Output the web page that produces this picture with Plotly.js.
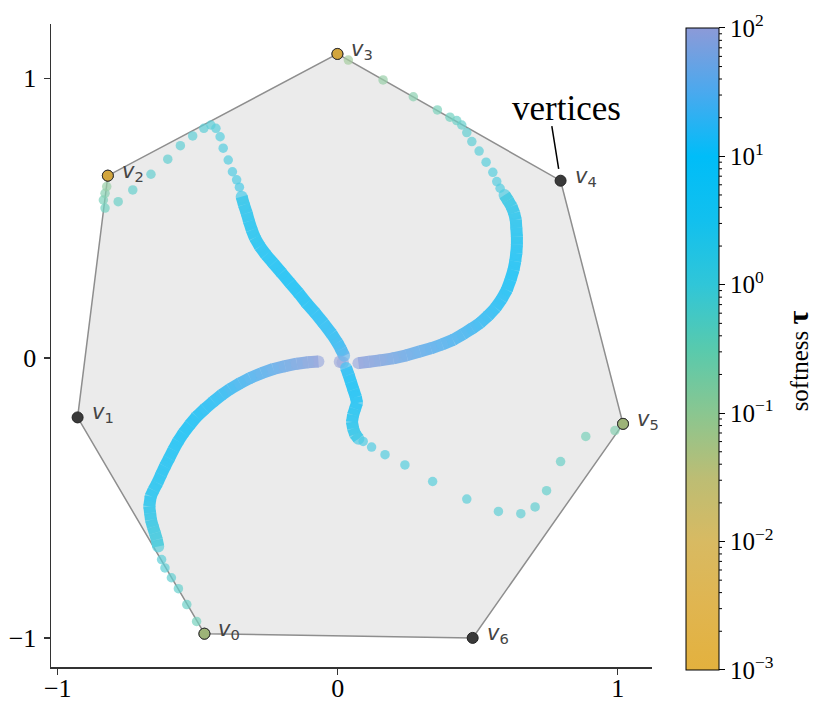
<!DOCTYPE html>
<html>
<head>
<meta charset="utf-8">
<script src="https://cdn.plot.ly/plotly-3.0.1.min.js"></script>
<style>html,body{margin:0;padding:0;background:#fff;}#chart{width:817px;height:702px;}</style>
</head>
<body>
<div id="chart"></div>
<script>
// ---- data ----
// polytope vertices v0..v6
const vx = [-0.476, -0.929, -0.821, -0.001, 0.796, 1.019, 0.482];
const vy = [-0.985, -0.212, 0.652, 1.087, 0.634, -0.235, -1.000];
const vNames = ['0','1','2','3','4','5','6'];

// centre start points (high softness)
const c0x = [0.008, 0.018];
const c0y = [-0.013, -0.016];
const c0t = [100, 100];

// strand 1 (centre -> v0): dense part, then sparse part
const s1x = [-0.069,-0.106,-0.146,-0.188,-0.230,-0.272,-0.313,-0.349,-0.385,-0.415,-0.444,-0.474,-0.504,-0.528,-0.551,-0.570,-0.587,-0.602,-0.617,-0.631,-0.644,-0.658,-0.668,-0.673,-0.670,-0.667,-0.660,-0.653,-0.646,-0.641];
const s1y = [-0.012,-0.015,-0.020,-0.029,-0.039,-0.054,-0.071,-0.090,-0.111,-0.132,-0.155,-0.181,-0.209,-0.238,-0.268,-0.297,-0.328,-0.358,-0.387,-0.417,-0.446,-0.472,-0.494,-0.530,-0.554,-0.578,-0.603,-0.625,-0.649,-0.673];
const s1t = [90,75,60,48,38,31,26,22,18,15,13,12,11,10,9,8,7,6.5,6,5.5,5,4.5,4,3,2.4,2,1.7,1.4,1.2,1.0];
const d1x = [-0.629,-0.617,-0.594,-0.569,-0.539,-0.504];
const d1y = [-0.720,-0.750,-0.785,-0.824,-0.881,-0.941];
const d1t = [0.9,0.8,0.7,0.6,0.5,0.35];

// strand 2 (centre -> v3)
const s2x = [0.074,0.112,0.151,0.198,0.246,0.294,0.333,0.373,0.412,0.447,0.480,0.508,0.537,0.564,0.585,0.604,0.617,0.628,0.634,0.638,0.640,0.640,0.638,0.636,0.630,0.621,0.608,0.596];
const s2y = [-0.018,-0.013,-0.008,-0.001,0.010,0.024,0.035,0.049,0.065,0.085,0.106,0.125,0.151,0.180,0.210,0.244,0.279,0.315,0.346,0.375,0.405,0.434,0.465,0.494,0.519,0.542,0.564,0.583];
const s2t = [90,80,70,56,45,38,33,29,25,22,19,17,15,13,12,11,10,9,8,7,6,5,4,3.4,2.8,2.3,1.9,1.6];
const d2x = [0.580,0.568,0.554,0.530,0.505,0.479,0.461,0.443,0.425,0.401,0.356,0.270,0.162,0.038];
const d2y = [0.607,0.631,0.664,0.700,0.740,0.774,0.806,0.833,0.849,0.861,0.887,0.934,0.994,1.065];
const d2t = [1.4,1.2,1.1,1.0,0.9,0.8,0.7,0.6,0.5,0.4,0.3,0.18,0.12,0.08];

// strand 3 (centre -> v2)
const s3x = [0.023,0.012,-0.001,-0.022,-0.051,-0.081,-0.111,-0.140,-0.170,-0.201,-0.230,-0.256,-0.278,-0.296,-0.307,-0.317,-0.325,-0.335,-0.343];
const s3y = [0.008,0.031,0.055,0.087,0.125,0.162,0.196,0.233,0.268,0.305,0.339,0.369,0.399,0.430,0.458,0.489,0.518,0.548,0.577];
const s3t = [30,20,16,14,13,12,11,10.5,10,9,8,7,6,5,4.5,4,3.5,3,2.5];
const d3x = [-0.351,-0.361,-0.376,-0.391,-0.409,-0.420,-0.435,-0.453,-0.478,-0.518,-0.562,-0.607,-0.667,-0.732,-0.784,-0.831,-0.837,-0.831,-0.825];
const d3y = [0.611,0.637,0.666,0.708,0.750,0.791,0.821,0.833,0.821,0.794,0.759,0.711,0.657,0.601,0.559,0.536,0.565,0.589,0.613];
const d3t = [2,1.7,1.5,1.3,1.2,1.1,1.0,0.9,0.85,0.8,0.75,0.7,0.65,0.6,0.5,0.4,0.3,0.2,0.12];

// strand 4 (centre -> v5)
const s4x = [0.030,0.039,0.047,0.056,0.065,0.069,0.062,0.055,0.051,0.055,0.062,0.074];
const s4y = [-0.035,-0.060,-0.085,-0.113,-0.140,-0.160,-0.181,-0.203,-0.228,-0.252,-0.272,-0.288];
const s4t = [14,12,10,9,8,7,6,5,4,3,2.4,2];
const d4x = [0.091,0.121,0.169,0.240,0.339,0.461,0.574,0.654,0.705,0.746,0.796,0.886,0.990];
const d4y = [-0.298,-0.318,-0.345,-0.382,-0.441,-0.504,-0.548,-0.556,-0.532,-0.474,-0.370,-0.280,-0.259];
const d4t = [1.7,1.5,1.3,1.1,1.0,0.9,0.8,0.75,0.7,0.6,0.5,0.3,0.2];

// final points of the strands (vertex index, softness)
const endV = [0, 3, 2, 5];
const endT = [0.05, 0.001, 0.001, 0.05];

// colour bar
const cbTickVals = [-3,-2,-1,0,1,2];
const cbTickText = ['10<sup>−3</sup>','10<sup>−2</sup>','10<sup>−1</sup>','10<sup>0</sup>','10<sup>1</sup>','10<sup>2</sup>'];

// ---- styling / construction ----
const cs = [
  [0.0,'#e3b13e'],[0.1,'#e0b550'],[0.2,'#d8ba62'],[0.3,'#bcbd74'],
  [0.4,'#8ac690'],[0.5,'#58caad'],[0.6,'#30c6d8'],[0.7,'#12c0ee'],
  [0.8,'#00bdf8'],[0.9,'#4aa9ee'],[1.0,'#8c9ad8']
];
const CMIN = -3, CMAX = 2, ALPHA = 0.78, BG = [235,235,235];
function hex2rgb(h){return [parseInt(h.substr(1,2),16),parseInt(h.substr(3,2),16),parseInt(h.substr(5,2),16)];}
function csRGB(lv){
  let v = (lv - CMIN)/(CMAX - CMIN); v = Math.max(0, Math.min(1, v));
  for (let i=0;i<cs.length-1;i++){
    if (v <= cs[i+1][0]){
      const f = (v - cs[i][0])/(cs[i+1][0]-cs[i][0]);
      const a = hex2rgb(cs[i][1]), b = hex2rgb(cs[i+1][1]);
      return a.map((c,k)=>c+(b[k]-c)*f);
    }
  }
  return hex2rgb(cs[cs.length-1][1]);
}
// colour as drawn with transparency over the grey polytope
function dotColor(lv){
  const c = csRGB(lv);
  return 'rgb(' + c.map((v,k)=>Math.round(ALPHA*v + (1-ALPHA)*BG[k])).join(',') + ')';
}
const L = Math.log10;

const traces = [];
// polygon
traces.push({
  x: vx.concat([vx[0]]), y: vy.concat([vy[0]]),
  mode: 'lines', fill: 'toself', fillcolor: '#ebebeb',
  line: {color: '#8e8e8e', width: 1.5}, hoverinfo: 'skip', showlegend: false
});

const paths = [[s1x,s1y,s1t],[s2x,s2y,s2t],[s3x,s3y,s3t],[s4x,s4y,s4t]];
const dots = [[d1x,d1y,d1t],[d2x,d2y,d2t],[d3x,d3y,d3t],[d4x,d4y,d4t]];
const PATHW = 12, DOTS = 9.5;

// dense strands: thick segments between consecutive points
paths.forEach(p => {
  for (let i=0;i<p[0].length-1;i++){
    traces.push({
      x: [p[0][i], p[0][i+1]], y: [p[1][i], p[1][i+1]], mode: 'lines',
      line: {color: dotColor((L(p[2][i])+L(p[2][i+1]))/2), width: PATHW},
      hoverinfo: 'skip', showlegend: false
    });
  }
});

// all trajectory points as markers
let mx = [], my = [], mc = [], ms = [];
function addPts(xs, ys, ts, size){
  for (let i=0;i<xs.length;i++){ mx.push(xs[i]); my.push(ys[i]); mc.push(dotColor(L(ts[i]))); ms.push(size); }
}
addPts(c0x, c0y, c0t, 12.5);
paths.forEach(p => addPts(p[0], p[1], p[2], PATHW));
dots.forEach(d => addPts(d[0], d[1], d[2], DOTS));

traces.push({
  x: mx, y: my, mode: 'markers', hoverinfo: 'skip', showlegend: false,
  marker: {size: ms, color: mc, line: {width: 0}}
});

// vertices
traces.push({
  x: vx, y: vy, mode: 'markers', hoverinfo: 'skip', showlegend: false,
  marker: {size: 11, color: '#3a3a3a', line: {color: '#222', width: 1}}
});

// colour bar geometry (pixels -> paper)
const PW = 601, PH = 643, CB_X = 1.0566, CB_TH = 33, CB_LEN = 642, CB_Y = 0.4947;
// end points coloured by final softness (carries the colour bar)
traces.push({
  x: endV.map(i=>vx[i]), y: endV.map(i=>vy[i]), mode: 'markers', hoverinfo: 'skip', showlegend: false,
  marker: {size: 11, color: endT.map(L), colorscale: cs, cmin: CMIN, cmax: CMAX,
           opacity: 0.9, line: {color: '#333', width: 1},
           showscale: true,
           colorbar: {
             x: CB_X, xanchor: 'left', xpad: 0,
             y: CB_Y, yanchor: 'middle', ypad: 0,
             len: CB_LEN, lenmode: 'pixels', thickness: CB_TH, thicknessmode: 'pixels',
             outlinecolor: '#000', outlinewidth: 1,
             tickmode: 'array', tickvals: cbTickVals, ticktext: cbTickText,
             ticks: 'outside', ticklen: 6, tickwidth: 1, tickcolor: '#000',
             tickfont: {family: 'Liberation Serif, Times New Roman, serif', size: 25, color: '#000'},
             title: {text: ' ', side: 'right', font: {size: 10}}
           }}
});

// minor ticks on the colour bar (log decades)
const shapes = [];
const cbBottom = CB_Y - (CB_LEN/PH)/2, cbRight = CB_X + CB_TH/PW;
for (let d=CMIN; d<CMAX; d++) for (let k=2;k<10;k++){
  const yv = cbBottom + ((d + Math.log10(k)) - CMIN)/(CMAX - CMIN) * (CB_LEN/PH);
  shapes.push({type: 'line', xref: 'paper', yref: 'paper', x0: cbRight, x1: cbRight + 3/PW, y0: yv, y1: yv,
               line: {color: '#000', width: 1}});
}

const annotations = vx.map((x,i) => ({
  x: x, y: vy[i], xref: 'x', yref: 'y', showarrow: false,
  text: '<i>v</i><sub>' + vNames[i] + '</sub>',
  xanchor: 'left', yanchor: 'middle', xshift: 12, yshift: 4,
  font: {family: 'DejaVu Sans, sans-serif', size: 21, color: '#444'}
}));
annotations.push({
  xref: 'paper', yref: 'paper', x: 0.858, y: 0.869, showarrow: false,
  text: 'vertices', xanchor: 'center', yanchor: 'middle',
  font: {family: 'Liberation Serif, Times New Roman, serif', size: 35, color: '#000'}
});
annotations.push({
  x: vx[4], y: vy[4], xref: 'x', yref: 'y', text: '', showarrow: true,
  arrowhead: 0, arrowwidth: 1.5, arrowcolor: '#000', ax: -9, ay: -56, standoff: 12
});
// colour bar title
annotations.push({
  xref: 'paper', yref: 'paper', x: 1.242, y: 0.476, showarrow: false, textangle: -90,
  text: 'softness <b><span style="font-size:30px">τ</span></b>', xanchor: 'center', yanchor: 'middle',
  font: {family: 'Liberation Serif, Times New Roman, serif', size: 25, color: '#000'}
});

const axFont = {family: 'Liberation Serif, Times New Roman, serif', size: 26, color: '#000'};
const layout = {
  width: 817, height: 702,
  margin: {l: 51, r: 165, t: 24, b: 35, pad: 0},
  paper_bgcolor: '#fff', plot_bgcolor: '#fff',
  showlegend: false,
  xaxis: {
    range: [-1.024, 1.1225], tickmode: 'array', tickvals: [-1,0,1], ticktext: ['−1','0','1'],
    showgrid: false, zeroline: false, showline: true, linecolor: '#333', linewidth: 1.5,
    ticks: 'outside', ticklen: 6, tickwidth: 1.5, tickcolor: '#333', tickfont: axFont,
    ticklabelstandoff: -9
  },
  yaxis: {
    range: [-1.104, 1.194], tickmode: 'array', tickvals: [-1,0,1], ticktext: ['−1','0','1'],
    showgrid: false, zeroline: false, showline: true, linecolor: '#333', linewidth: 1.5,
    ticks: 'outside', ticklen: 6, tickwidth: 1.5, tickcolor: '#333', tickfont: axFont,
    ticklabelstandoff: 2
  },
  shapes: shapes,
  annotations: annotations
};
Plotly.newPlot('chart', traces, layout, {displayModeBar: false, staticPlot: true});
</script>
</body>
</html>
